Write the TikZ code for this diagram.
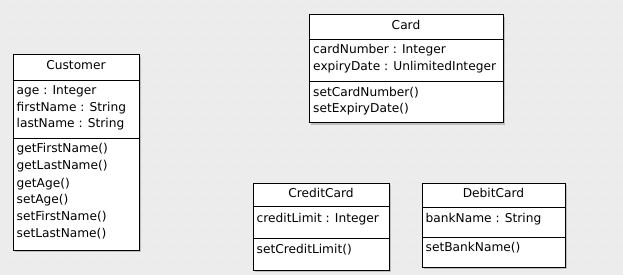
\documentclass[tikz,border=0pt]{standalone}
\usepackage{fontspec}
\setmainfont{DejaVu Sans}
\begin{document}
\begin{tikzpicture}[x=1pt,y=-1pt,
  txt/.style={anchor=base west,inner sep=0pt,font=\fontsize{12.2}{14}\selectfont},
  ttl/.style={anchor=base,inner sep=0pt,font=\fontsize{12.2}{14}\selectfont},
  cls/.style={draw=black,line width=1pt,fill=white},
  shd/.style={fill=black!25,draw=none},
  sep/.style={draw=black,line width=0.8pt}]
\useasboundingbox (0,0) rectangle (623,275);
\fill[black!7.5] (0,0) rectangle (623,275);
\foreach \i in {0,...,38}{\foreach \j in {0,...,16}{
  \fill[black!14] ({13.3+16*\i-0.6},{7.3+16*\j-0.6}) rectangle ++(1.2,1.2);}}
% Customer
\fill[shd] (15,57) rectangle (141,252);
\path[cls] (13,55) rectangle (139,250);
\coordinate (cu1) at (13,80); \coordinate (cu2) at (139,80);
\coordinate (cu3) at (13,138); \coordinate (cu4) at (139,138);
\draw[sep] (cu1) -- (cu2); \draw[sep] (cu3) -- (cu4);
\node[ttl] (cut) at (76,69.5) {Customer};
\node[txt] (cua1) at (16.5,94.5) {age : Integer};
\node[txt] (cua2) at (16.5,111.5) {firstName : String};
\node[txt] (cua3) at (16.5,128) {lastName : String};
\node[txt] (cum1) at (16.5,153) {getFirstName()};
\node[txt] (cum2) at (16.5,170) {getLastName()};
\node[txt] (cum3) at (16.5,187) {getAge()};
\node[txt] (cum4) at (16.5,203.5) {setAge()};
\node[txt] (cum5) at (16.5,220.5) {setFirstName()};
\node[txt] (cum6) at (16.5,237) {setLastName()};
% Card
\fill[shd] (311,17) rectangle (505,125);
\path[cls] (309,15) rectangle (503,123);
\coordinate (ca1) at (309,39); \coordinate (ca2) at (503,39);
\coordinate (ca3) at (309,81); \coordinate (ca4) at (503,81);
\draw[sep] (ca1) -- (ca2); \draw[sep] (ca3) -- (ca4);
\node[ttl] (cat) at (406,29.5) {Card};
\node[txt] (caa1) at (313,53.5) {cardNumber : Integer};
\node[txt] (caa2) at (313,71) {expiryDate : UnlimitedInteger};
\node[txt] (cam1) at (313,96.5) {setCardNumber()};
\node[txt] (cam2) at (313,113) {setExpiryDate()};
% CreditCard
\fill[shd] (255,185) rectangle (391,272);
\path[cls] (253,183) rectangle (389,270);
\coordinate (cc1) at (253,206); \coordinate (cc2) at (389,206);
\coordinate (cc3) at (253,238); \coordinate (cc4) at (389,238);
\draw[sep] (cc1) -- (cc2); \draw[sep] (cc3) -- (cc4);
\node[ttl] (cct) at (321,197.5) {CreditCard};
\node[txt] (cca1) at (256.5,222) {creditLimit : Integer};
\node[txt] (ccm1) at (256.5,253) {setCreditLimit()};
% DebitCard
\fill[shd] (424,185) rectangle (567,269);
\path[cls] (422,183) rectangle (565,267);
\coordinate (dc1) at (422,207); \coordinate (dc2) at (565,207);
\coordinate (dc3) at (422,237); \coordinate (dc4) at (565,237);
\draw[sep] (dc1) -- (dc2); \draw[sep] (dc3) -- (dc4);
\node[ttl] (dct) at (493.5,197.5) {DebitCard};
\node[txt] (dca1) at (425.5,222) {bankName : String};
\node[txt] (dcm1) at (425.5,251.5) {setBankName()};
\end{tikzpicture}
\end{document}
